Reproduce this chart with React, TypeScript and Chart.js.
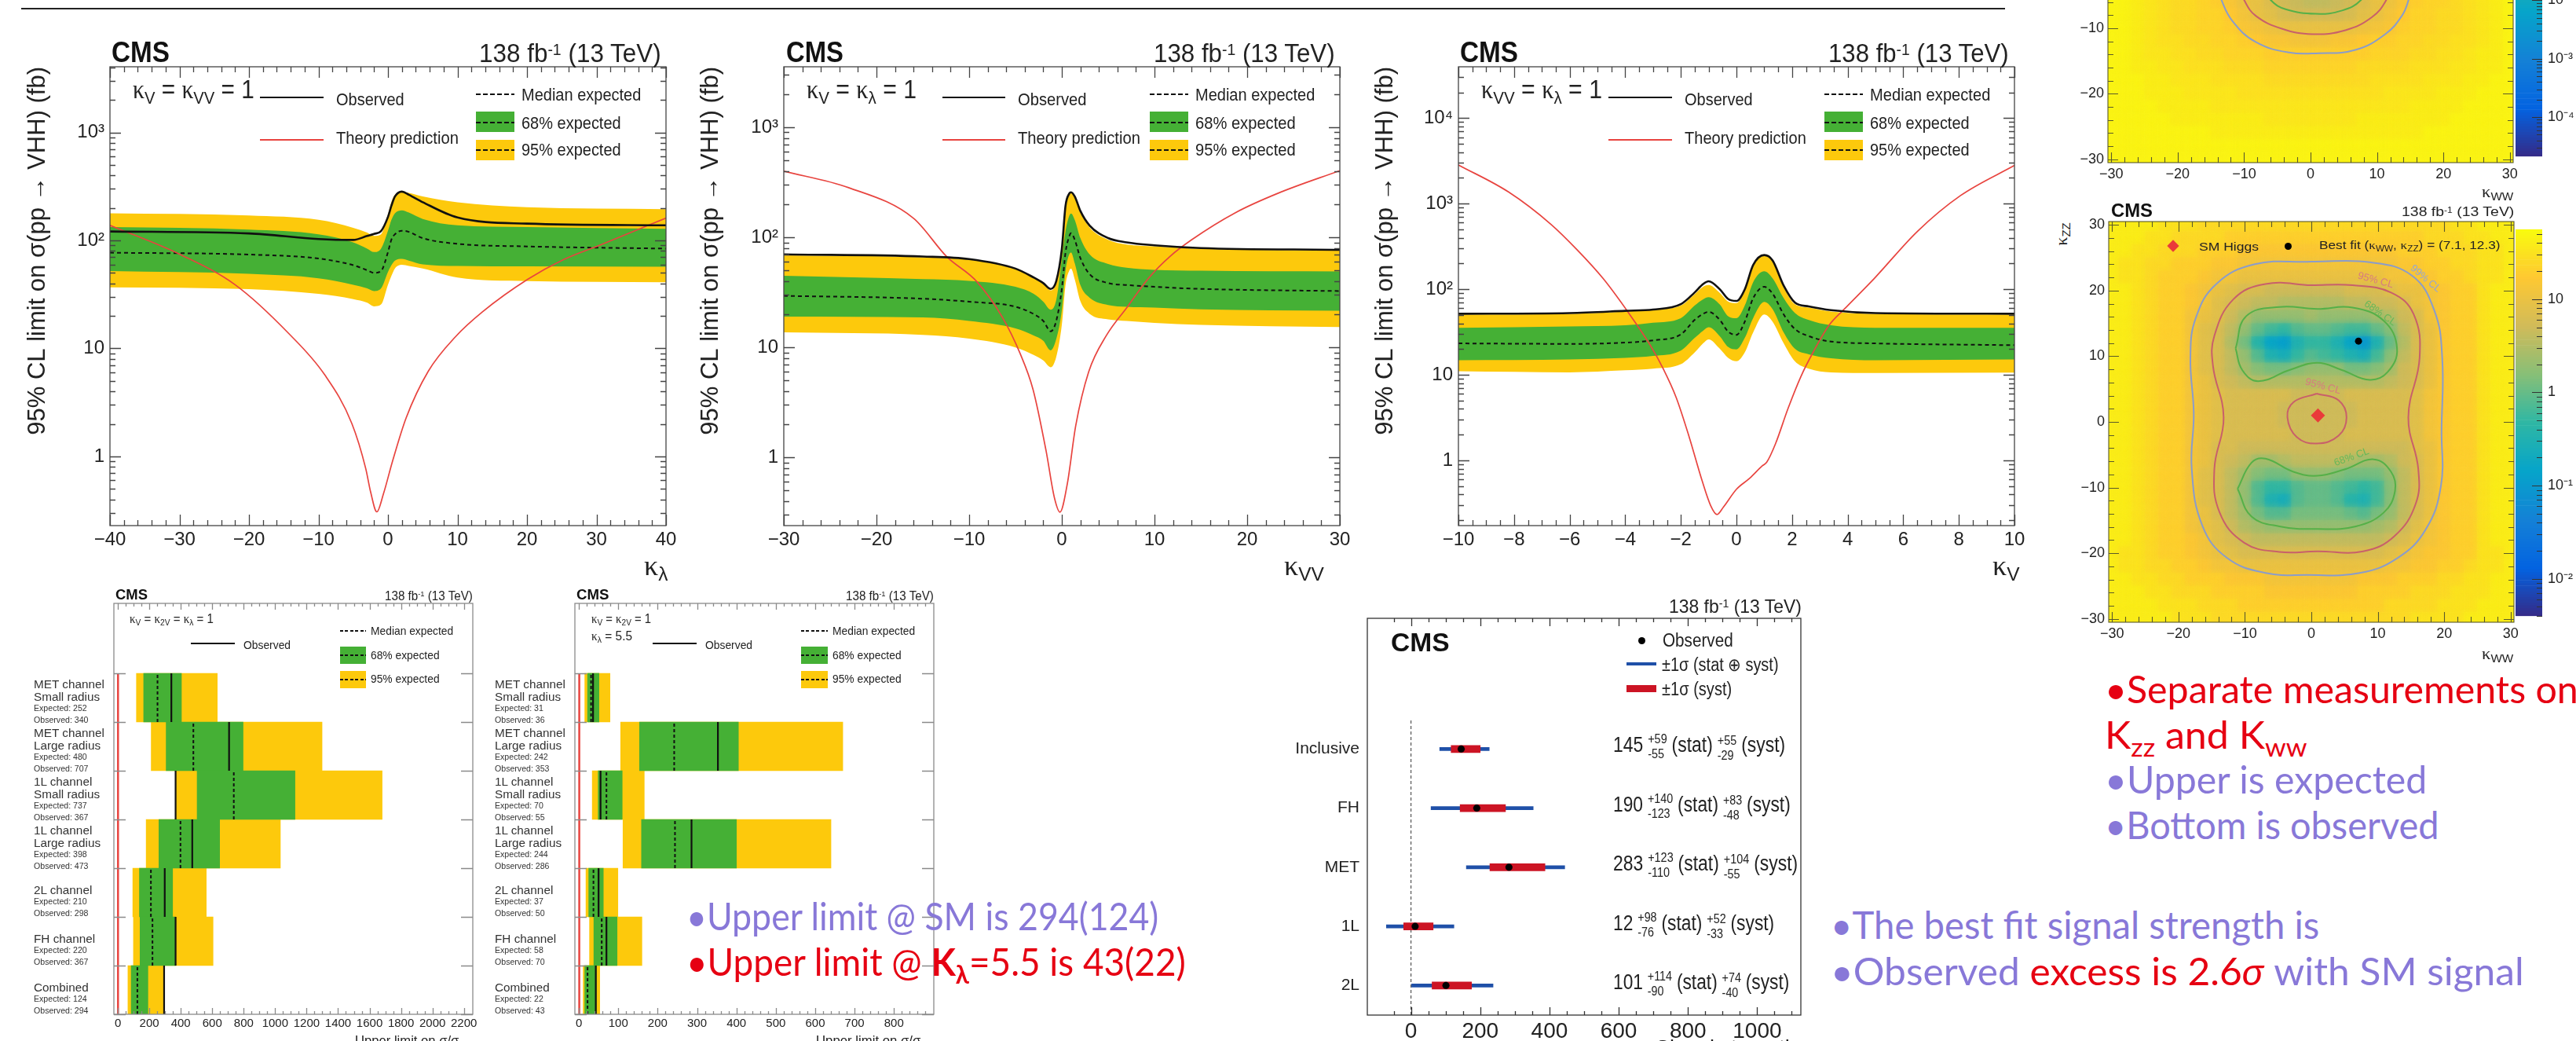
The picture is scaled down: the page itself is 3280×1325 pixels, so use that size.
import React, { useEffect, useLayoutEffect, useRef } from "react";
import { Chart, registerables } from "chart.js";
Chart.register(...registerables);

const SANS = '"Liberation Sans", Arial, sans-serif';
const SLIDE = 'Lato, "Noto Sans", sans-serif';
const YELLOW = "#fdc90c";
const GREEN = "#45b035";
const RED = "#e8443f";
const PURPLE = "#8878d8";
const SLIDERED = "#e60012";

/* ---------- kappa_lambda limit ---------- */
const klX = [-40, -20, -10, -5, -3, -2, -1, 0, 0.5, 1, 2, 3, 5, 10, 20, 40];
const klObs = [121, 116, 103, 101, 110, 115, 122, 165, 210, 255, 283, 265, 226, 163, 143, 138];
const klExp = [77, 74, 68, 59, 53, 50, 52, 78, 102, 114, 123, 120, 105, 93, 88, 84];
const klUp68 = [133, 126, 114, 96, 84, 78, 84, 123, 155, 178, 190, 181, 158, 138, 133, 128];
const klDn68 = [52, 49, 44.6, 38.9, 36, 34, 36, 51, 59, 65, 67.5, 65, 60, 58, 57.5, 57];
const klUp95 = [178, 170, 155, 131, 118, 110, 114, 175, 228, 265, 280, 275, 255, 225, 203, 195];
const klDn95 = [36.8, 35.4, 32, 28.6, 26.5, 24.5, 25.5, 38.9, 47, 55, 59.5, 58, 55, 45.3, 42, 41];
const klThX = [-40, -30, -22, -14.3, -9.1, -5.2, -3.2, -2.5, -1.6, -0.65, 0.65, 2.6, 5.8, 9.7, 13.6, 20.1, 25.3, 30.5, 40];
const klTh = [138, 74.6, 38.9, 13.8, 5.7, 2.02, 0.773, 0.47, 0.307, 0.451, 0.9, 2.26, 6.15, 12.8, 21.8, 43.6, 66.6, 90.5, 161];

/* ---------- kappa_VV limit ---------- */
const vvX = [-30, -15, -10, -5, -3, -2, -1.2, -0.6, 0, 0.4, 0.8, 1, 1.4, 2, 3, 5, 7, 10, 15, 30];
const vvObs = [70, 67, 63.5, 52, 43, 38.4, 34, 40, 78, 194, 250, 257, 235, 174, 128, 98.5, 90, 84.7, 80, 77];
const vvExp = [29.4, 27.7, 26, 23.4, 20, 17.4, 14, 17.4, 34, 72.8, 102, 109, 95, 65, 46.3, 38.4, 36.9, 35.5, 34, 32.5];
const vvUp68 = [44.8, 41.8, 40.3, 35.5, 30.5, 26, 22, 27, 62.6, 114, 157, 165, 144, 98.5, 70, 57.3, 53, 50.7, 49.8, 49];
const vvDn68 = [19, 18.7, 17.4, 14.9, 12.8, 11.5, 9.4, 11.9, 21.8, 49.8, 70, 72.8, 58, 36.9, 28.3, 24.3, 23.4, 23, 22.2, 21.5];
const vvUp95 = [68.6, 66, 62.6, 52, 43, 38, 33, 38.4, 72.8, 187, 244, 253, 230, 170, 123, 95, 86, 82.8, 78.5, 75.7];
const vvDn95 = [13.7, 13, 12, 10, 8.5, 7.6, 6.6, 8.2, 16, 36.9, 49.8, 51.8, 41.4, 26.3, 20.2, 18, 17.4, 16.7, 16, 15.3];
const vvThX = [-30, -23, -16, -12.4, -9.2, -6.4, -4.5, -3.1, -1.7, -0.8, -0.2, 0.6, 1.5, 2.9, 4.8, 7.1, 9.4, 11.7, 14, 18.7, 23.4, 30];
const vvTh = [399, 283, 149, 66.5, 39.8, 18.7, 8.8, 4.13, 1.15, 0.43, 0.318, 0.58, 1.94, 6, 12.8, 23.5, 43, 67.5, 95, 167, 253, 404];

/* ---------- kappa_V limit ---------- */
const vX = [-10, -6, -4, -3, -2, -1.5, -1.2, -1, -0.6, -0.3, 0, 0.3, 0.6, 1, 1.3, 1.7, 2.1, 2.6, 3.4, 5, 10];
const vObs = [51.7, 52.7, 56, 58, 67, 92, 115, 124, 100, 77, 73, 100, 192, 251, 217, 110, 70, 63, 57, 52.7, 51.7];
const vExp = [23.3, 23, 23.8, 25.3, 29.7, 43.9, 51.7, 54.5, 43.9, 32, 29.3, 41.8, 78.5, 107, 89, 50.7, 34.4, 28.3, 24.5, 23.3, 22.2];
const vUp68 = [35.5, 36.8, 37.9, 40.6, 46, 64.6, 76.3, 80.8, 66.5, 48.5, 46, 64.6, 121, 162, 134, 78.5, 53, 43.7, 37.9, 35.5, 35.5];
const vDn68 = [14.8, 15.1, 15.8, 16.6, 19.2, 27, 32.8, 36, 28.3, 21.2, 19.8, 27, 46, 71, 58.6, 31.2, 20.2, 17.4, 15.6, 14.8, 15.1];
const vUp95 = [50.7, 51.7, 55, 57.5, 64.6, 88, 107, 112, 90.7, 72, 69, 96, 188, 245, 212, 106, 67, 61, 55, 51.7, 50.7];
const vDn95 = [11, 10.7, 11.3, 11.8, 13.3, 18.3, 23.3, 26, 20.2, 15.8, 14.4, 18.3, 31.2, 50.7, 41.8, 23.3, 14.4, 11.8, 10.7, 10.5, 10.6];
const vThX = [-10, -8.2, -6.67, -5.74, -4.8, -3.88, -3.1, -2.64, -2.17, -1.7, -1.24, -0.93, -0.7, -0.47, 0, 0.47, 0.93, 1.09, 1.4, 1.86, 2.33, 2.79, 3.33, 3.88, 4.96, 6.5, 8.06, 10];
const vTh = [2836, 1371, 573, 291, 134, 53, 22.2, 11.9, 5.46, 1.88, 0.586, 0.298, 0.233, 0.284, 0.46, 0.617, 0.865, 0.953, 1.55, 4.08, 9.75, 19.2, 37.9, 58.6, 134, 472, 1245, 2800];

/* ---------- per-channel limits ---------- */
const channelNames = [["MET channel", "Small radius"], ["MET channel", "Large radius"], ["1L channel", "Small radius"], ["1L channel", "Large radius"], ["2L channel"], ["FH channel"], ["Combined"]];
const smLo95 = [118, 212, 368, 180, 95, 99, 64];
const smHi95 = [632, 1298, 1680, 1033, 562, 605, 292];
const smLo68 = [164, 307, 504, 261, 137, 141, 85];
const smHi68 = [404, 796, 1126, 647, 348, 367, 191];
const smExp = [252, 480, 737, 398, 210, 220, 124];
const smObs = [340, 707, 367, 473, 298, 367, 294];
const k55Lo95 = [15, 106, 34, 112, 18, 27, 11];
const k55Hi95 = [79, 670, 166, 640, 99, 160, 53];
const k55Lo68 = [22, 154, 49, 159, 25, 38, 15];
const k55Hi68 = [51, 405, 110, 400, 62, 97, 44];
const k55Exp = [31, 242, 70, 244, 37, 58, 22];
const k55Obs = [36, 353, 55, 286, 50, 70, 43];

/* ---------- signal strength ---------- */
const muNames = ["Inclusive", "FH", "MET", "1L", "2L"];
const muBest = [145, 190, 283, 12, 101];
const muTotalLo = [83, 58, 160, -71, 2];
const muTotalHi = [226, 353, 444, 124, 237];
const muSystLo = [116, 142, 228, -21, 61];
const muSystHi = [200, 273, 387, 64, 175];
const muStatUp = ["+59", "+140", "+123", "+98", "+114"];
const muStatDn = ["-55", "-123", "-110", "-76", "-90"];
const muSystUp = ["+55", "+83", "+104", "+52", "+74"];
const muSystDn = ["-29", "-48", "-55", "-33", "-40"];

/* ---------- 2D scans: log10(limit) in tenths, on a 2-unit grid, x = -30..30 ---------- */
const gridX = [-30, -28, -26, -24, -22, -20, -18, -16, -14, -12, -10, -8, -6, -4, -2, 0, 2, 4, 6, 8, 10, 12, 14, 16, 18, 20, 22, 24, 26, 28, 30];
const obsGridY = [30, 28, 26, 24, 22, 20, 18, 16, 14, 12, 10, 8, 6, 4, 2, 0, -2, -4, -6, -8, -10, -12, -14, -16, -18, -20, -22, -24, -26, -28, -30];
const obsGrid = [
  [16, 16, 16, 16, 15, 15, 15, 14, 14, 14, 14, 14, 14, 14, 14, 14, 14, 14, 14, 14, 14, 14, 14, 14, 14, 14, 15, 15, 16, 16, 16],
  [16, 16, 16, 15, 15, 14, 14, 14, 14, 13, 13, 13, 13, 13, 13, 13, 13, 13, 13, 13, 13, 13, 13, 13, 14, 14, 14, 15, 15, 16, 16],
  [16, 16, 15, 15, 14, 14, 14, 13, 13, 13, 12, 12, 12, 12, 12, 12, 12, 12, 12, 12, 12, 12, 13, 13, 13, 14, 14, 14, 15, 15, 16],
  [16, 15, 15, 14, 14, 13, 13, 13, 12, 12, 11, 11, 11, 11, 11, 11, 11, 11, 11, 11, 11, 11, 12, 12, 13, 13, 14, 14, 15, 15, 16],
  [16, 15, 15, 14, 13, 13, 13, 12, 11, 11, 10, 10, 10, 10, 10, 10, 10, 10, 10, 10, 10, 11, 11, 12, 12, 13, 13, 14, 15, 15, 16],
  [16, 16, 15, 14, 13, 13, 12, 11, 10, 9, 8, 8, 7, 7, 7, 7, 7, 7, 8, 8, 8, 9, 10, 10, 11, 12, 13, 13, 15, 16, 16],
  [16, 16, 15, 14, 13, 13, 12, 11, 9, 8, 7, 6, 6, 5, 5, 5, 5, 5, 6, 6, 7, 7, 8, 10, 11, 12, 13, 13, 15, 16, 16],
  [16, 16, 15, 14, 13, 13, 11, 10, 9, 7, 5, 3, 3, 3, 3, 4, 3, 3, 3, 3, 4, 5, 7, 8, 11, 12, 13, 13, 15, 16, 16],
  [16, 16, 15, 14, 13, 13, 11, 9, 8, 6, 3, 0, -2, -3, -1, 0, 0, -1, -2, -2, 0, 2, 6, 8, 10, 12, 13, 13, 15, 16, 16],
  [16, 16, 15, 14, 13, 13, 11, 9, 8, 5, 1, -4, -8, -9, -5, -3, -3, -5, -8, -10, -5, 0, 5, 8, 10, 12, 13, 13, 15, 16, 16],
  [16, 16, 15, 14, 13, 13, 11, 9, 8, 6, 3, -1, -5, -6, -3, -1, -2, -3, -5, -6, -2, 2, 6, 8, 10, 12, 13, 13, 15, 16, 16],
  [16, 16, 15, 14, 13, 13, 11, 9, 8, 6, 4, 2, 1, 1, 2, 3, 3, 3, 1, 1, 2, 4, 7, 8, 10, 12, 13, 13, 15, 16, 16],
  [16, 16, 15, 14, 13, 13, 11, 10, 8, 7, 6, 5, 5, 5, 5, 5, 5, 5, 5, 5, 5, 6, 7, 8, 10, 12, 13, 13, 15, 16, 16],
  [16, 16, 15, 14, 13, 13, 11, 10, 9, 8, 8, 8, 8, 8, 7, 7, 7, 7, 8, 8, 8, 8, 8, 9, 11, 12, 13, 13, 15, 16, 16],
  [16, 16, 15, 14, 13, 13, 11, 10, 9, 8, 8, 8, 8, 7, 7, 7, 7, 7, 7, 8, 8, 8, 8, 9, 11, 12, 13, 13, 15, 16, 16],
  [16, 16, 15, 14, 13, 13, 11, 10, 9, 8, 8, 8, 8, 7, 7, 7, 7, 7, 7, 8, 8, 8, 8, 9, 11, 12, 13, 13, 15, 16, 16],
  [16, 16, 15, 14, 13, 13, 11, 10, 9, 8, 8, 8, 8, 8, 7, 7, 7, 7, 8, 8, 8, 8, 8, 9, 11, 12, 13, 13, 15, 16, 16],
  [16, 16, 15, 14, 13, 13, 11, 10, 8, 8, 7, 7, 7, 7, 7, 7, 7, 7, 7, 7, 7, 7, 7, 9, 10, 12, 13, 13, 15, 16, 16],
  [16, 16, 15, 14, 13, 13, 11, 10, 8, 7, 6, 4, 4, 5, 6, 6, 6, 6, 5, 4, 4, 5, 7, 8, 10, 12, 13, 13, 15, 16, 16],
  [16, 16, 15, 14, 13, 13, 11, 9, 8, 6, 4, 2, 1, 1, 3, 3, 3, 2, 1, 1, 1, 3, 6, 8, 10, 12, 13, 13, 15, 16, 16],
  [16, 16, 15, 14, 13, 13, 11, 9, 8, 6, 3, -1, -3, -3, -1, 0, 0, -1, -2, -3, -2, 2, 6, 8, 10, 12, 13, 13, 15, 16, 16],
  [16, 16, 15, 14, 13, 13, 11, 9, 8, 6, 3, -1, -5, -6, -1, 0, 0, -1, -4, -5, -2, 2, 6, 8, 10, 12, 13, 13, 15, 16, 16],
  [16, 16, 15, 14, 13, 13, 11, 10, 8, 6, 4, 1, -1, -1, 1, 1, 1, 1, 0, -1, 1, 3, 6, 8, 10, 12, 13, 13, 15, 16, 16],
  [16, 16, 15, 14, 13, 13, 11, 10, 9, 7, 5, 4, 3, 3, 3, 3, 3, 3, 3, 3, 4, 5, 7, 9, 11, 12, 13, 13, 15, 16, 16],
  [16, 16, 15, 14, 13, 13, 12, 11, 9, 8, 7, 6, 6, 6, 6, 6, 6, 6, 6, 6, 6, 7, 8, 10, 11, 12, 13, 13, 15, 16, 16],
  [16, 15, 15, 14, 13, 13, 12, 11, 10, 9, 8, 8, 8, 8, 8, 8, 8, 8, 8, 8, 8, 9, 10, 11, 12, 12, 13, 13, 15, 15, 16],
  [16, 15, 15, 14, 14, 13, 13, 12, 11, 11, 10, 10, 10, 10, 10, 10, 10, 10, 10, 10, 10, 11, 11, 12, 12, 13, 13, 14, 15, 15, 16],
  [16, 16, 15, 15, 14, 14, 13, 13, 13, 12, 12, 12, 11, 11, 11, 11, 11, 11, 11, 12, 12, 12, 13, 13, 13, 14, 14, 15, 15, 16, 16],
  [16, 16, 16, 15, 15, 14, 14, 14, 13, 13, 13, 13, 12, 12, 12, 12, 12, 12, 12, 13, 13, 13, 13, 14, 14, 14, 15, 15, 15, 16, 16],
  [16, 16, 16, 16, 15, 15, 15, 14, 14, 14, 13, 13, 13, 13, 13, 13, 13, 13, 13, 13, 13, 14, 14, 14, 14, 15, 15, 15, 16, 16, 16],
  [16, 16, 16, 16, 16, 15, 15, 15, 14, 14, 14, 14, 14, 14, 14, 14, 14, 14, 14, 14, 14, 14, 14, 15, 15, 15, 15, 16, 16, 16, 16],
];
const expGridY = [-6, -8, -10, -12, -14, -16, -18, -20, -22, -24, -26, -28, -30];
const expGrid = [
  [18, 18, 17, 16, 15, 14, 14, 13, 12, 10, 8, 7, 5, 3, 2, 1, 1, 2, 3, 5, 7, 8, 10, 12, 13, 13, 14, 15, 16, 17, 18],
  [18, 18, 17, 16, 15, 14, 14, 13, 13, 11, 9, 7, 6, 4, 3, 3, 3, 3, 4, 6, 7, 9, 11, 13, 13, 14, 14, 15, 16, 17, 18],
  [18, 18, 17, 16, 15, 14, 14, 13, 13, 12, 10, 9, 8, 7, 7, 7, 7, 7, 7, 8, 9, 10, 12, 13, 13, 14, 14, 15, 16, 17, 18],
  [18, 18, 17, 16, 15, 15, 14, 14, 13, 13, 12, 11, 10, 10, 9, 9, 9, 10, 10, 11, 12, 12, 13, 13, 14, 14, 15, 15, 16, 17, 18],
  [18, 18, 17, 16, 16, 15, 15, 14, 14, 13, 13, 13, 12, 12, 12, 12, 12, 12, 12, 12, 13, 13, 13, 14, 14, 15, 15, 16, 17, 17, 18],
  [18, 18, 17, 17, 16, 16, 15, 15, 15, 14, 14, 14, 13, 13, 13, 13, 13, 13, 13, 14, 14, 14, 14, 15, 15, 15, 16, 16, 17, 17, 18],
  [18, 18, 18, 17, 17, 16, 16, 16, 15, 15, 15, 15, 14, 14, 14, 14, 14, 14, 14, 14, 15, 15, 15, 15, 16, 16, 16, 17, 17, 18, 18],
  [18, 18, 18, 17, 17, 17, 16, 16, 16, 16, 15, 15, 15, 15, 15, 15, 15, 15, 15, 15, 15, 16, 16, 16, 16, 17, 17, 17, 18, 18, 18],
  [18, 18, 18, 18, 17, 17, 17, 17, 16, 16, 16, 16, 16, 16, 16, 16, 16, 16, 16, 16, 16, 16, 16, 17, 17, 17, 17, 18, 18, 18, 18],
  [18, 18, 18, 18, 18, 17, 17, 17, 17, 17, 17, 17, 16, 16, 16, 16, 16, 16, 16, 17, 17, 17, 17, 17, 17, 17, 18, 18, 18, 18, 18],
  [18, 18, 18, 18, 18, 18, 18, 18, 17, 17, 17, 17, 17, 17, 17, 17, 17, 17, 17, 17, 17, 17, 17, 17, 18, 18, 18, 18, 18, 18, 18],
  [18, 18, 18, 18, 18, 18, 18, 18, 18, 18, 18, 18, 18, 18, 18, 18, 18, 18, 18, 18, 18, 18, 18, 18, 18, 18, 18, 18, 18, 18, 18],
  [18, 18, 18, 18, 18, 18, 18, 18, 18, 18, 18, 18, 18, 18, 18, 18, 18, 18, 18, 18, 18, 18, 18, 18, 18, 18, 18, 18, 18, 18, 18],
];

/* contours: [kappa_WW, kappa_ZZ] */
const obs99 = [[0, 24.4], [-8.5, 24], [-14.3, 21], [-17.4, 15.8], [-18.2, 9.8], [-17.7, 1.3], [-18, -7.2], [-16.4, -15.8], [-12.7, -20.7], [-6.9, -23], [-0.6, -23.3], [7.3, -23], [13, -20.7], [17.2, -16.4], [19.5, -9.8], [19.6, -1.3], [19.7, 9.8], [18.5, 17], [15.1, 22.3], [8.8, 24.3], [0, 24.4]];
const obs95 = [[0, 20.8], [-6.9, 21], [-11.7, 18.7], [-14.6, 13.1], [-14.8, 8.5], [-13.2, 0.7], [-14.6, -7.2], [-13.8, -13.8], [-10.1, -18.4], [-4.8, -19.8], [0.9, -19.7], [7.8, -19.7], [12.5, -17.4], [15.7, -12.5], [16.1, -7.2], [14.6, 0.7], [16.3, 9.8], [15.4, 16.4], [12, 19.7], [6.2, 20.8], [0, 20.8]];
const obs95Inner = [[0.8, 4.3], [-2.7, 3], [-3.6, 0.7], [-2.2, -2.3], [0.8, -3.3], [4.1, -2.1], [5.3, 0.7], [4.1, 3.3], [0.8, 4.3]];
const obs68Up = [[-11.4, 11.2], [-9.8, 16.1], [-4.8, 17.5], [0.9, 17.2], [6.2, 17.4], [10.9, 15.4], [12.9, 11.2], [11.5, 7.6], [8.8, 6.4], [4.6, 7.9], [0.9, 9], [-3.3, 7.9], [-8, 6.2], [-10.4, 7.9], [-11.4, 11.2]];
const obs68Dn = [[-11.1, -10.2], [-9, -6.2], [-6.9, -5.6], [-2.7, -7.6], [0.9, -8.2], [5.1, -7.2], [9.4, -5.7], [12, -7.6], [12.6, -10.5], [10.9, -13.8], [6.7, -15.9], [0.9, -16.3], [-4.8, -15.9], [-9, -14.4], [-11.1, -10.2]];
const exp99 = [[-14.2, -3], [-13.4, -5.7], [-11.75, -8.9], [-8.25, -12.1], [-3.25, -13.7], [1.25, -13.8], [6.75, -13.3], [11.25, -10.9], [13.75, -8.1], [14.75, -5.7], [15.4, -3]];
const exp95 = [[-11, -3], [-10, -5.7], [-8.25, -8.1], [-4.25, -10.1], [0.25, -10.9], [5.25, -10.3], [9.25, -8.3], [11.4, -5.7], [12.2, -3]];
const exp68 = [[-7.6, -3], [-6, -5.7], [-3.75, -7.1], [0.75, -7.8], [4.75, -7.3], [7.6, -5.7], [9, -3]];
const smPoint = [1, 1];
const bestFit = [7.1, 12.3];

const PARULA: number[][] = [[53, 42, 135], [3, 99, 225], [20, 129, 214], [6, 164, 202], [46, 183, 164], [135, 191, 119], [209, 187, 89], [254, 200, 50], [249, 251, 14]];
function parula(t: number) {
  const u = Math.max(0, Math.min(1, t)) * (PARULA.length - 1);
  const i = Math.min(PARULA.length - 2, Math.floor(u));
  const f = u - i;
  const c = PARULA[i].map((v, k) => Math.round(v + (PARULA[i + 1][k] - v) * f));
  return `rgb(${c[0]},${c[1]},${c[2]})`;
}

/* ---------- ticks ---------- */
const minus = (v: number) => (v < 0 ? "\u2212" + Math.abs(v) : String(v));
function linTicks(min: number, max: number, minor: number, majors: number[], fmt: (v: number) => string = minus) {
  const out: any[] = [];
  const n = Math.round((max - min) / minor);
  for (let i = 0; i <= n; i++) {
    const v = +(min + i * minor).toFixed(6);
    const mj = majors.some((m) => Math.abs(m - v) < 1e-6);
    out.push({ value: v, major: mj, lbl: mj ? fmt(v) : "" });
  }
  return out;
}
const SUP: Record<string, string> = { "-": "\u207b", "1": "\u00b9", "2": "\u00b2", "3": "\u00b3", "4": "\u2074" };
function logTicks(dMin: number, dMax: number, plain: Record<number, string>) {
  const out: any[] = [];
  for (let d = dMin; d <= dMax; d++)
    for (let m = 1; m <= 9; m++) {
      const v = m * Math.pow(10, d);
      const lbl = m === 1 ? plain[d] ?? "10" + String(d).split("").map((c) => SUP[c]).join("") : "";
      out.push({ value: v, major: m === 1, lbl });
    }
  return out;
}
const tickCb = (_v: any, i: number, t: any[]) => t[i].lbl || "";

const rootFrame = {
  id: "rootFrame",
  beforeDatasetDraw(chart: any, args: any) {
    const b = chart.data.datasets[args.index].blurPx;
    if (b) {
      chart.ctx.save();
      chart.ctx.filter = `blur(${b}px)`;
    }
  },
  afterDatasetDraw(chart: any, args: any) {
    if (chart.data.datasets[args.index].blurPx) chart.ctx.restore();
  },
  afterDatasetsDraw(chart: any) {
    const o = chart.options.plugins.rootFrame;
    if (!o) return;
    const { ctx, chartArea: a } = chart;
    ctx.save();
    ctx.strokeStyle = o.color;
    ctx.lineWidth = o.width;
    ctx.beginPath();
    const xs = chart.scales.x;
    const ys = chart.scales.y;
    if (xs && !o.noX)
      xs.ticks.forEach((t: any) => {
        const p = Math.round(xs.getPixelForValue(t.value)) + 0.5;
        if (p < a.left - 1 || p > a.right + 1) return;
        const l = t.major ? o.major : o.minor;
        ctx.moveTo(p, a.bottom);
        ctx.lineTo(p, a.bottom - l);
        ctx.moveTo(p, a.top);
        ctx.lineTo(p, a.top + l);
      });
    if (ys && !o.noY)
      ys.ticks.forEach((t: any) => {
        const p = Math.round(ys.getPixelForValue(t.value)) + 0.5;
        if (p < a.top - 1 || p > a.bottom + 1) return;
        const l = (t.major ? o.majorY ?? o.major : o.minor);
        if (!o.rightOnly) {
          ctx.moveTo(a.left, p);
          ctx.lineTo(a.left + l, p);
        }
        ctx.moveTo(a.right, p);
        ctx.lineTo(a.right - l, p);
      });
    ctx.stroke();
    if (!o.noBox) ctx.strokeRect(a.left, a.top, a.right - a.left, a.bottom - a.top);
    ctx.restore();
  },
};
Chart.register(rootFrame);

const base = (o: any) => ({
  responsive: false,
  animation: false,
  devicePixelRatio: 1,
  events: [],
  ...o,
});
const noPlug = (frame: any) => ({ legend: { display: false }, tooltip: { enabled: false }, rootFrame: frame });
const mkXY = (xs: number[], ys: number[]) => xs.map((x, i) => ({ x, y: ys[i] }));
const pairs = (a: number[][]) => a.map(([x, y]) => ({ x, y }));

/* ---------- top limit plots ---------- */
function limitConfig(c: any) {
  const band = (d: number[], color: string, fill: any) => ({ data: mkXY(c.x, d), borderWidth: 0, pointRadius: 0, backgroundColor: color, fill, cubicInterpolationMode: "monotone", borderColor: "transparent" });
  return {
    type: "line",
    data: {
      datasets: [
        { data: mkXY(c.x, c.obs), borderColor: "#111", borderWidth: 2.6, pointRadius: 0, cubicInterpolationMode: "monotone", fill: false },
        { data: mkXY(c.thX, c.th), borderColor: RED, borderWidth: 1.7, pointRadius: 0, cubicInterpolationMode: "monotone", fill: false },
        { data: mkXY(c.x, c.exp), borderColor: "#111", borderWidth: 2, borderDash: [5, 4], pointRadius: 0, cubicInterpolationMode: "monotone", fill: false },
        band(c.up68, GREEN, "+1"),
        band(c.dn68, "transparent", false),
        band(c.up95, YELLOW, "+1"),
        band(c.dn95, "transparent", false),
      ],
    },
    options: base({
      layout: { padding: { top: c.padTop, right: 40 } },
      plugins: noPlug({ color: "#444", width: 1.3, major: 14, minor: 7 }),
      scales: {
        x: {
          type: "linear", min: c.xMin, max: c.xMax, grid: { display: false, drawTicks: false }, border: { display: false },
          afterFit: (s: any) => { s.height = 60; },
          afterBuildTicks: (s: any) => { s.ticks = linTicks(c.xMin, c.xMax, c.minor, c.majors); },
          ticks: { callback: tickCb, autoSkip: false, maxRotation: 0, color: "#222", padding: 4, font: { family: SANS, size: 24 } },
        },
        y: {
          type: "logarithmic", min: c.yMin, max: c.yMax, grid: { display: false, drawTicks: false }, border: { display: false },
          afterFit: (s: any) => { s.width = c.marginL; },
          afterBuildTicks: (s: any) => { s.ticks = logTicks(c.dMin, c.dMax, { 0: "1", 1: "10" }).filter((t: any) => t.value >= c.yMin && t.value <= c.yMax); },
          ticks: { callback: tickCb, autoSkip: false, color: "#222", padding: 7, font: { family: SANS, size: 24 } },
          title: { display: true, text: "95% CL limit on \u03c3(pp \u2192 VHH) (fb)", align: "end", color: "#222", padding: { top: 0, bottom: 0 }, font: { family: SANS, size: 31 } },
        },
      },
    }),
  };
}

/* ---------- per-channel bars ---------- */
function channelConfig(c: any) {
  const yOf = (i: number) => 6.5 - i;
  const seg = (vals: number[]) => vals.flatMap((v, i) => [{ x: v, y: yOf(i) - 0.5 }, { x: v, y: yOf(i) + 0.5 }, { x: NaN, y: NaN }]);
  return {
    type: "bar",
    data: {
      datasets: [
        { type: "scatter", showLine: true, data: seg(c.obs), borderColor: "#111", borderWidth: 2.2, pointRadius: 0 },
        { type: "scatter", showLine: true, data: seg(c.exp), borderColor: "#111", borderWidth: 2, borderDash: [4, 3], pointRadius: 0 },
        { type: "scatter", showLine: true, data: [{ x: c.sm, y: 0 }, { x: c.sm, y: 7 }], borderColor: RED, borderWidth: 2.5, pointRadius: 0 },
        { indexAxis: "y", data: c.lo68.map((l: number, i: number) => ({ y: yOf(i), x: [l, c.hi68[i]] })), backgroundColor: GREEN, barPercentage: 1, categoryPercentage: 1, grouped: false },
        { indexAxis: "y", data: c.lo95.map((l: number, i: number) => ({ y: yOf(i), x: [l, c.hi95[i]] })), backgroundColor: YELLOW, barPercentage: 1, categoryPercentage: 1, grouped: false },
      ],
    },
    options: base({
      layout: { padding: { top: 30, right: 38 } },
      plugins: noPlug({ color: "#8a8a8a", width: 1.3, major: 8, minor: 4, majorY: 15 }),
      scales: {
        x: {
          type: "linear", min: 0, max: c.xMax, grid: { display: false, drawTicks: false }, border: { display: false },
          afterFit: (s: any) => { s.height = 34; },
          afterBuildTicks: (s: any) => { s.ticks = linTicks(0, c.xMax - (c.xMax % c.minor), c.minor, c.majors); },
          ticks: { callback: tickCb, autoSkip: false, maxRotation: 0, color: "#222", padding: 3, font: { family: SANS, size: 15 } },
        },
        y: {
          type: "linear", min: 0, max: 8.435, offset: false, grid: { display: false, drawTicks: false }, border: { display: false },
          afterFit: (s: any) => { s.width = 45; },
          afterBuildTicks: (s: any) => { s.ticks = [0, 1, 2, 3, 4, 5, 6, 7].map((v) => ({ value: v, major: true, lbl: "" })); },
          ticks: { callback: tickCb, autoSkip: false },
        },
      },
    }),
  };
}

/* ---------- signal strength ---------- */
function muConfig() {
  const yOf = (i: number) => 4.5 - i;
  return {
    type: "bar",
    data: {
      datasets: [
        { type: "scatter", data: muBest.map((x, i) => ({ x, y: yOf(i) })), backgroundColor: "#000", pointRadius: 4.5 },
        { indexAxis: "y", data: muSystLo.map((l, i) => ({ y: yOf(i), x: [l, muSystHi[i]] })), backgroundColor: "#cc1424", barThickness: 9, grouped: false },
        { indexAxis: "y", data: muTotalLo.map((l, i) => ({ y: yOf(i), x: [l, muTotalHi[i]] })), backgroundColor: "#1f50a8", barThickness: 4, grouped: false },
        { type: "scatter", showLine: true, data: [{ x: 0, y: 0 }, { x: 0, y: 5 }], borderColor: "#555", borderWidth: 1.2, borderDash: [4, 3], pointRadius: 0 },
      ],
    },
    options: base({
      layout: { padding: { top: 37, right: 30 } },
      plugins: noPlug({ color: "#333", width: 1.3, major: 10, minor: 5, noY: true }),
      scales: {
        x: {
          type: "linear", min: -100, max: 1100, grid: { display: false, drawTicks: false }, border: { display: false },
          afterFit: (s: any) => { s.height = 33; },
          afterBuildTicks: (s: any) => { s.ticks = linTicks(-50, 1100, 50, [0, 200, 400, 600, 800, 1000]); },
          ticks: { callback: tickCb, autoSkip: false, maxRotation: 0, color: "#222", padding: 4, font: { family: SANS, size: 28 } },
        },
        y: {
          type: "linear", min: 0, max: 6.71, offset: false, grid: { display: false, drawTicks: false }, border: { display: false },
          afterFit: (s: any) => { s.width = 111; },
          afterBuildTicks: (s: any) => { s.ticks = muNames.map((n, i) => ({ value: yOf(i), major: true, lbl: n })); },
          ticks: { callback: tickCb, autoSkip: false, color: "#222", padding: 10, font: { family: SANS, size: 21 } },
        },
      },
    }),
  };
}

/* ---------- 2D heat maps ---------- */
function heatConfig(c: any) {
  const cells: any[] = [];
  const colors: string[] = [];
  c.gridY.forEach((y: number, r: number) => gridX.forEach((x, k) => {
    cells.push({ x, y: [y - 1, y + 1] });
    colors.push(parula((c.grid[r][k] / 10 - c.logMin) / (c.logMax - c.logMin)));
  }));
  const line = (pts: number[][], col: string) => ({ type: "scatter", showLine: true, data: pairs(pts), borderColor: col, borderWidth: 2, pointRadius: 0, tension: 0.42 });
  return {
    type: "bar",
    data: {
      datasets: [
        ...(c.points || []),
        ...c.lines.map((l: any) => line(l[0], l[1])),
        { data: cells, backgroundColor: colors, barPercentage: 1, categoryPercentage: 1, grouped: false, blurPx: 5 },
        { data: cells, backgroundColor: colors, barPercentage: 1, categoryPercentage: 1, grouped: false },
      ],
    },
    options: base({
      layout: { padding: { top: c.padTop, right: 40 } },
      plugins: noPlug({ color: "#5a5a2a", width: 1.1, major: 13, minor: 7 }),
      scales: {
        x: {
          type: "linear", min: -30.5, max: 30.5, offset: false, grid: { display: false, drawTicks: false }, border: { display: false },
          afterFit: (s: any) => { s.height = 40; },
          afterBuildTicks: (s: any) => { s.ticks = linTicks(-30, 30, 2, [-30, -20, -10, 0, 10, 20, 30]); },
          ticks: { callback: tickCb, autoSkip: false, maxRotation: 0, color: "#222", padding: 4, font: { family: SANS, size: 18 } },
        },
        y: {
          type: "linear", min: -30.5, max: 30.5, grid: { display: false, drawTicks: false }, border: { display: false },
          afterFit: (s: any) => { s.width = 45; },
          afterBuildTicks: (s: any) => { s.ticks = linTicks(-30, 30, 2, [-30, -20, -10, 0, 10, 20, 30]); },
          ticks: { callback: tickCb, autoSkip: false, color: "#222", padding: 5, font: { family: SANS, size: 18 } },
        },
      },
    }),
  };
}
function barConfig(c: any) {
  const n = 140;
  const data: any[] = [];
  const colors: string[] = [];
  for (let i = 0; i < n; i++) {
    const a = c.logMin + ((c.logMax - c.logMin) * i) / n;
    const b = c.logMin + ((c.logMax - c.logMin) * (i + 1)) / n;
    data.push({ x: 0.5, y: [Math.pow(10, a), Math.pow(10, b)] });
    colors.push(parula((i + 0.5) / n));
  }
  return {
    type: "bar",
    data: { datasets: [{ data, backgroundColor: colors, barThickness: 34, grouped: false }] },
    options: base({
      layout: { padding: { top: 8, bottom: c.padBottom, left: 8 } },
      plugins: noPlug({ color: "#333", width: 1, major: 13, minor: 7, noX: true, noBox: true, rightOnly: true }),
      scales: {
        x: { type: "linear", display: false, min: 0, max: 1, offset: false },
        y: {
          type: "logarithmic", position: "right", min: Math.pow(10, c.logMin), max: Math.pow(10, c.logMax), grid: { display: false, drawTicks: false }, border: { display: false },
          afterFit: (s: any) => { s.width = 43; },
          afterBuildTicks: (s: any) => { s.ticks = logTicks(c.dMin, c.dMax, { 0: "1", 1: "10" }).filter((t: any) => t.value >= Math.pow(10, c.logMin) && t.value <= Math.pow(10, c.logMax)); },
          ticks: { callback: tickCb, autoSkip: false, color: "#222", padding: 7, font: { family: SANS, size: 18 } },
        },
      },
    }),
  };
}

/* ---------- html helpers ---------- */
function T({ x, y, w, size, color = "#222", bold, font = SANS, children }: any) {
  const ref = useRef<HTMLDivElement>(null);
  useLayoutEffect(() => {
    if (w && ref.current) ref.current.style.transform = `translateY(-50%) scaleX(${w / ref.current.offsetWidth})`;
  }, [w]);
  return (
    <div ref={ref} style={{ position: "absolute", left: x, top: y, fontSize: size, color, fontFamily: font, fontWeight: bold ? 700 : 400, lineHeight: 1, whiteSpace: "nowrap", transform: "translateY(-50%)", transformOrigin: "0 50%" }}>
      {children}
    </div>
  );
}
function R({ x, y, size, color, deg, children, font = SANS }: any) {
  return (
    <div style={{ position: "absolute", left: x, top: y, fontSize: size, color, fontFamily: font, lineHeight: 1, whiteSpace: "nowrap", transform: `translate(-50%,-50%) rotate(${deg}deg)` }}>
      {children}
    </div>
  );
}
const K = () => <span style={{ fontFamily: '"Liberation Serif", serif' }}>κ</span>;
const Sub = ({ children, s = 0.68 }: any) => <span style={{ fontSize: `${s}em`, position: "relative", top: "0.3em" }}>{children}</span>;
const Sup = ({ children, s = 0.62 }: any) => <span style={{ fontSize: `${s}em`, position: "relative", top: "-0.42em" }}>{children}</span>;
const Box = ({ x, y, w, h, bg }: any) => <div style={{ position: "absolute", left: x, top: y, width: w, height: h, background: bg }} />;
const Dash = ({ x, y, w, h = 2, on = 6, off = 3 }: any) => (
  <div style={{ position: "absolute", left: x, top: y - h / 2, width: w, height: h, background: `repeating-linear-gradient(90deg,#111 0 ${on}px,transparent ${on}px ${on + off}px)` }} />
);
function Cv({ x, y, w, h, make }: any) {
  const ref = useRef<HTMLCanvasElement>(null);
  useEffect(() => {
    const ch = new Chart(ref.current as any, make());
    return () => ch.destroy();
  }, []);
  return <canvas ref={ref} width={w} height={h} style={{ position: "absolute", left: x, top: y, width: w, height: h, display: "block" }} />;
}
const lumi = (
  <>
    138 fb<Sup>-1</Sup> (13 TeV)
  </>
);

function TopLabels({ p, kappa }: any) {
  return (
    <>
      <T x={p.cms} y={67} w={p.cmsW} size={36} bold color="#111">CMS</T>
      <T x={p.lumi} y={67} w={p.lumiW} size={34}>{lumi}</T>
      <T x={p.k} y={114} w={p.kW} size={33}>{kappa}</T>
      <Box x={p.obs} y={123} w={p.obsW} h={2.4} bg="#111" />
      <T x={p.obsT} y={127} w={p.obsTW} size={22.5}>Observed</T>
      <Box x={p.obs} y={177} w={p.obsW} h={2} bg={RED} />
      <T x={p.obsT} y={176} w={p.thW} size={22.5}>Theory prediction</T>
      <Dash x={p.leg} y={120} w={p.legW} />
      <T x={p.legT} y={120.5} w={p.medW} size={22.5}>Median expected</T>
      <Box x={p.leg} y={142} w={p.legW} h={26} bg={GREEN} />
      <Dash x={p.leg} y={155.5} w={p.legW} />
      <T x={p.legT} y={156.5} w={p.pctW} size={22.5}>68% expected</T>
      <Box x={p.leg} y={178} w={p.legW} h={26} bg={YELLOW} />
      <Dash x={p.leg} y={190.5} w={p.legW} />
      <T x={p.legT} y={191} w={p.pctW} size={22.5}>95% expected</T>
    </>
  );
}
function ChannelLabels({ x, exp, obs }: any) {
  const rowH = 62;
  const top = 857;
  return (
    <>
      {channelNames.map((names, i) => {
        const four = names.length === 2;
        return (
          <React.Fragment key={i}>
            {names.map((n, k) => (
              <T key={k} x={x} y={top + i * rowH + (four ? (k ? 30 : 14) : 28)} size={15.3} color="#333">{n}</T>
            ))}
            <T x={x} y={top + i * rowH + (four ? 44 : 42)} size={10.6} color="#333">Expected: {exp[i]}</T>
            <T x={x} y={top + i * rowH + (four ? 59 : 56.5)} size={10.6} color="#333">Observed: {obs[i]}</T>
          </React.Fragment>
        );
      })}
    </>
  );
}
function ChannelLegend({ d }: any) {
  return (
    <>
      <Box x={243 + d} y={817.5} w={56} h={2.4} bg="#111" />
      <T x={310 + d} y={820} w={60} size={15}>Observed</T>
      <Dash x={432.6 + d} y={803} w={33.5} on={4} off={2.5} />
      <T x={472 + d} y={802} w={105} size={15}>Median expected</T>
      <Box x={432.6 + d} y={823.4} w={33.5} h={22} bg={GREEN} />
      <Dash x={432.6 + d} y={834} w={33.5} on={4} off={2.5} />
      <T x={472 + d} y={832.7} w={87.5} size={15}>68% expected</T>
      <Box x={432.6 + d} y={854} w={33.5} h={22} bg={YELLOW} />
      <Dash x={432.6 + d} y={864.7} w={33.5} on={4} off={2.5} />
      <T x={472 + d} y={863} w={87.5} size={15}>95% expected</T>
    </>
  );
}
const Stack = ({ up, dn, gapTop = 0 }: any) => (
  <span style={{ display: "inline-flex", flexDirection: "column", fontSize: 17, lineHeight: "19px", margin: "0 7px", verticalAlign: "middle", position: "relative", top: gapTop }}>
    <span>{up}</span>
    <span>{dn}</span>
  </span>
);

const muWidths = [219, 226, 235, 205, 224];

export default function App() {
  return (
    <div style={{ position: "absolute", left: 0, top: 0, width: 3280, height: 1325, overflow: "hidden", background: "#fff" }}>
      <Box x={27} y={10} w={2526} h={2} bg="#222" />

      <Cv x={30} y={40} w={858} h={689} make={() => limitConfig({ x: klX, obs: klObs, exp: klExp, up68: klUp68, dn68: klDn68, up95: klUp95, dn95: klDn95, thX: klThX, th: klTh, xMin: -40, xMax: 40, minor: 2, majors: [-40, -30, -20, -10, 0, 10, 20, 30, 40], yMin: 0.229, yMax: 4050, dMin: -1, dMax: 3, padTop: 45, marginL: 110 })} />
      <Cv x={887} y={40} w={859} h={689} make={() => limitConfig({ x: vvX, obs: vvObs, exp: vvExp, up68: vvUp68, dn68: vvDn68, up95: vvUp95, dn95: vvDn95, thX: vvThX, th: vvTh, xMin: -30, xMax: 30, minor: 2, majors: [-30, -20, -10, 0, 10, 20, 30], yMin: 0.24, yMax: 3550, dMin: -1, dMax: 3, padTop: 45, marginL: 111 })} />
      <Cv x={1746} y={40} w={859} h={689} make={() => limitConfig({ x: vX, obs: vObs, exp: vExp, up68: vUp68, dn68: vDn68, up95: vUp95, dn95: vDn95, thX: vThX, th: vTh, xMin: -10, xMax: 10, minor: 0.5, majors: [-10, -8, -6, -4, -2, 0, 2, 4, 6, 8, 10], yMin: 0.173, yMax: 39800, dMin: -1, dMax: 4, padTop: 45, marginL: 111 })} />

      <Cv x={100} y={738} w={540} h={587} make={() => channelConfig({ lo95: smLo95, hi95: smHi95, lo68: smLo68, hi68: smHi68, exp: smExp, obs: smObs, sm: 1, xMax: 2231, minor: 50, majors: [0, 200, 400, 600, 800, 1000, 1200, 1400, 1600, 1800, 2000, 2200] })} />
      <Cv x={687} y={738} w={540} h={587} make={() => channelConfig({ lo95: k55Lo95, hi95: k55Hi95, lo68: k55Lo68, hi68: k55Hi68, exp: k55Exp, obs: k55Obs, sm: 1, xMax: 891, minor: 20, majors: [0, 100, 200, 300, 400, 500, 600, 700, 800] })} />

      <Cv x={1630} y={750} w={693} h={575} make={muConfig} />

      <Cv x={2639} y={-340} w={601} h={587} make={() => heatConfig({ grid: expGrid, gridY: expGridY, logMin: -4.675, logMax: 1.935, padTop: 38, lines: [[exp99, "#8a9ccb"], [exp95, "#c8606a"], [exp68, "#55b048"]] })} />
      <Cv x={3195} y={-310} w={85} h={527} make={() => barConfig({ logMin: -4.675, logMax: 1.935, dMin: -5, dMax: 1, padBottom: 10 })} />
      <Cv x={2640} y={250} w={601} h={582} make={() => heatConfig({
        grid: obsGrid, gridY: obsGridY, logMin: -2.4, logMax: 1.75, padTop: 32,
        points: [
          { type: "scatter", data: [{ x: smPoint[0], y: smPoint[1] }], pointStyle: "rectRot", pointRadius: 9, backgroundColor: "#ea3a3a", borderWidth: 0 },
          { type: "scatter", data: [{ x: bestFit[0], y: bestFit[1] }], pointRadius: 4.5, backgroundColor: "#000", borderWidth: 0 },
        ],
        lines: [[obs99, "#8a9ccb"], [obs95, "#c8606a"], [obs95Inner, "#c8606a"], [obs68Up, "#55b048"], [obs68Dn, "#55b048"]],
      })} />
      <Cv x={3195} y={274} w={85} h={528} make={() => barConfig({ logMin: -2.4, logMax: 1.75, dMin: -3, dMax: 1, padBottom: 10 })} />

      <TopLabels kappa={<><K /><Sub>V</Sub> = <K /><Sub>VV</Sub> = 1</>} p={{ cms: 142, cmsW: 74, lumi: 610, lumiW: 232, k: 169, kW: 155, obs: 331, obsW: 81, obsT: 428, obsTW: 87, thW: 156, leg: 606, legW: 49, legT: 664, medW: 152, pctW: 127 }} />
      <TopLabels kappa={<><K /><Sub>V</Sub> = <K /><Sub>λ</Sub> = 1</>} p={{ cms: 1001, cmsW: 73, lumi: 1469, lumiW: 231, k: 1027, kW: 140, obs: 1200, obsW: 80, obsT: 1296, obsTW: 88, thW: 156, leg: 1464, legW: 49, legT: 1522, medW: 152, pctW: 128 }} />
      <TopLabels kappa={<><K /><Sub>VV</Sub> = <K /><Sub>λ</Sub> = 1</>} p={{ cms: 1859, cmsW: 74, lumi: 2328, lumiW: 230, k: 1886, kW: 154, obs: 2048, obsW: 81, obsT: 2145, obsTW: 87, thW: 155, leg: 2323, legW: 49, legT: 2381, medW: 153, pctW: 127 }} />
      <T x={820} y={720} size={36}><K /><Sub>λ</Sub></T>
      <T x={1635} y={720} size={36}><K /><Sub>VV</Sub></T>
      <T x={2537} y={720} size={36}><K /><Sub>V</Sub></T>

      <ChannelLabels x={43} exp={smExp} obs={smObs} />
      <ChannelLabels x={630} exp={k55Exp} obs={k55Obs} />
      <T x={147} y={757} w={41} size={18} bold color="#111">CMS</T>
      <T x={489.5} y={758.6} w={112} size={16}>{lumi}</T>
      <T x={165} y={787.5} w={107} size={16}><K /><Sub>V</Sub> = <K /><Sub>2V</Sub> = <K /><Sub>λ</Sub> = 1</T>
      <ChannelLegend d={0} />
      <T x={452} y={1325} w={132} size={16}>Upper limit on σ/σ</T>
      <T x={734} y={757} w={41.5} size={18} bold color="#111">CMS</T>
      <T x={1077} y={758.6} w={112} size={16}>{lumi}</T>
      <T x={752.6} y={787.5} w={76} size={16}><K /><Sub>V</Sub> = <K /><Sub>2V</Sub> = 1</T>
      <T x={752.6} y={810} w={52} size={16}><K /><Sub>λ</Sub> = 5.5</T>
      <ChannelLegend d={587.5} />
      <T x={1039} y={1325} w={133} size={16}>Upper limit on σ/σ</T>

      <T x={2125} y={771.7} w={169} size={24}>{lumi}</T>
      <T x={1770.6} y={816.5} w={75} size={34} bold color="#111">CMS</T>
      <div style={{ position: "absolute", left: 2086, top: 810.5, width: 9, height: 9, borderRadius: "50%", background: "#000" }} />
      <T x={2116.7} y={815} w={90} size={23}>Observed</T>
      <Box x={2071} y={843} w={37.5} h={4} bg="#1f50a8" />
      <T x={2116} y={846} w={148.5} size={23}>±1σ (stat ⊕ syst)</T>
      <Box x={2071} y={872} w={37.5} h={9} bg="#cc1424" />
      <T x={2116} y={877} w={89} size={23}>±1σ (syst)</T>
      {muBest.map((b, i) => (
        <T key={i} x={2054.3} y={950 + i * 75.5} w={muWidths[i]} size={27}>
          {b}
          <Stack up={muStatUp[i]} dn={muStatDn[i]} />
          (stat)
          <Stack up={muSystUp[i]} dn={muSystDn[i]} gapTop={2} />
          (syst)
        </T>
      ))}
      <T x={2108} y={1334} w={180} size={28}>Signal strength</T>

      <T x={3160} y={244} w={40} size={22}><K /><Sub>WW</Sub></T>
      <T x={2687.6} y={268} w={52.7} size={24} bold color="#111">CMS</T>
      <T x={3057.7} y={269} w={143} size={17}>{lumi}</T>
      <R x={2625} y={298} size={22} deg={-90} color="#222"><K /><Sub>ZZ</Sub></R>
      <T x={3160} y={832} w={40} size={22}><K /><Sub>WW</Sub></T>
      <div style={{ position: "absolute", left: 2761, top: 307, width: 12, height: 12, background: "#ea3a3a", transform: "rotate(45deg) scale(0.9,0.9)" }} />
      <T x={2800} y={313} w={76} size={15}>SM Higgs</T>
      <div style={{ position: "absolute", left: 2909, top: 309, width: 9, height: 9, borderRadius: "50%", background: "#000" }} />
      <T x={2953} y={312} w={231} size={15}>Best fit (<K /><Sub>WW</Sub>, <K /><Sub>ZZ</Sub>) = (7.1, 12.3)</T>
      <R x={3025} y={356} size={13} deg={15} color="#d87a80">95% CL</R>
      <R x={3089} y={354} size={13} deg={40} color="#96a6d4">99% CL</R>
      <R x={3031} y={398} size={13} deg={35} color="#66b85a">68% CL</R>
      <R x={2958} y={491} size={13} deg={15} color="#d87a80">95% CL</R>
      <R x={2994} y={581} size={13} deg={-20} color="#66b85a">68% CL</R>

      <T x={874} y={1166} w={601} size={48} color={PURPLE} font={SLIDE}>•Upper limit @ SM is 294(124)</T>
      <T x={874} y={1224} w={636} size={48} color={SLIDERED} font={SLIDE}>•Upper limit @ <b>K<Sub>λ</Sub></b>=5.5 is 43(22)</T>

      <T x={2680} y={877} w={603} size={48} color={SLIDERED} font={SLIDE}>•Separate measurements on</T>
      <T x={2680} y={935} w={257} size={48} color={SLIDERED} font={SLIDE}>K<Sub>zz</Sub> and K<Sub>ww</Sub></T>
      <T x={2680} y={992} w={410} size={48} color={PURPLE} font={SLIDE}>•Upper is expected</T>
      <T x={2680} y={1050} w={426} size={48} color={PURPLE} font={SLIDE}>•Bottom is observed</T>
      <T x={2331} y={1177} w={622} size={48} color={PURPLE} font={SLIDE}>•The best fit signal strength is</T>
      <T x={2331} y={1236} w={883} size={48} color={PURPLE} font={SLIDE}>
        •Observed <span style={{ color: SLIDERED }}>excess is 2.6<i>σ</i></span> with SM signal
      </T>
    </div>
  );
}
